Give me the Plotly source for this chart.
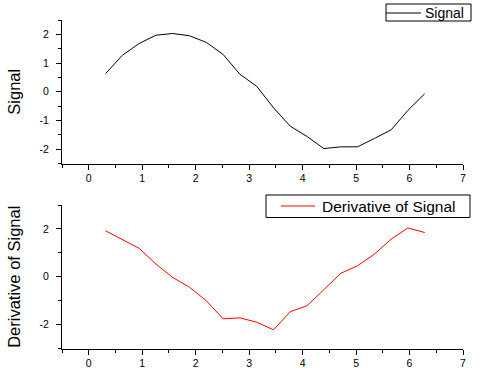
import plotly.graph_objects as go

# ---- data ----
x_vals = [0.314, 0.628, 0.942, 1.257, 1.571, 1.885, 2.199, 2.513, 2.827, 3.142,
          3.456, 3.770, 4.084, 4.398, 4.712, 5.027, 5.341, 5.655, 5.969, 6.283]
signal = [0.63, 1.27, 1.68, 1.97, 2.03, 1.95, 1.72, 1.30, 0.61, 0.19,
          -0.56, -1.20, -1.56, -1.98, -1.92, -1.92, -1.63, -1.33, -0.65, -0.07]
derivative = [1.92, 1.57, 1.19, 0.53, -0.03, -0.44, -1.00, -1.76, -1.72, -1.90,
              -2.22, -1.46, -1.21, -0.54, 0.14, 0.46, 0.94, 1.57, 2.04, 1.85]

x_ticks = [0, 1, 2, 3, 4, 5, 6, 7]
x_ticklabels = ["0", "1", "2", "3", "4", "5", "6", "7"]
y1_ticks = [-2, -1, 0, 1, 2]
y1_ticklabels = ["-2", "-1", "0", "1", "2"]
y2_ticks = [-2, 0, 2]
y2_ticklabels = ["-2", "0", "2"]

W, H = 481, 377
FONT = "Arial, Liberation Sans, sans-serif"


def px_x(p):
    return p / W


def px_y(p):
    return 1 - p / H


fig = go.Figure()
fig.add_trace(go.Scatter(x=x_vals, y=signal, mode="lines", name="Signal",
                         line=dict(color="black", width=1), xaxis="x", yaxis="y"))
fig.add_trace(go.Scatter(x=x_vals, y=derivative, mode="lines", name="Derivative of Signal",
                         line=dict(color="#ff0000", width=1), xaxis="x2", yaxis="y2"))

xdom = [px_x(62), px_x(463)]
common_x = dict(range=[-0.5, 7], domain=xdom, showgrid=False, zeroline=False,
                showline=True, linecolor="black", linewidth=1,
                ticks="outside", ticklen=5, tickwidth=1, tickcolor="black",
                tickvals=x_ticks, ticktext=x_ticklabels,
                tickfont=dict(family=FONT, size=10.5, color="black"),
                minor=dict(tick0=-0.5, dtick=0.5, ticks="outside", ticklen=3,
                           tickcolor="black", tickwidth=1, showgrid=False),
                automargin=False, fixedrange=True)

common_y = dict(showgrid=False, zeroline=False, showline=True, linecolor="black",
                linewidth=1, ticks="outside", ticklen=5, tickwidth=1, tickcolor="black",
                tickfont=dict(family=FONT, size=10.5, color="black"),
                ticklabelstandoff=5, automargin=False, fixedrange=True)

# legend boxes drawn as paper-coordinate shapes + annotations
legends = [
    # (box x0, x1, y0, y1, line x0, x1, line y, text x, text, colour, font size)
    (386, 471, 4, 21, 386, 421, 13, 423, "Signal", "black", 14),
    (266, 470, 195, 217.5, 281, 315, 206, 320, "Derivative of Signal", "#ff0000", 15.5),
]
shapes = []
annotations = []
for bx0, bx1, by0, by1, lx0, lx1, ly, tx, txt, col, fs in legends:
    shapes.append(dict(type="rect", xref="paper", yref="paper",
                       x0=px_x(bx0), x1=px_x(bx1), y0=px_y(by1), y1=px_y(by0),
                       line=dict(color="black", width=1), fillcolor="white", layer="above"))
    shapes.append(dict(type="line", xref="paper", yref="paper",
                       x0=px_x(lx0), x1=px_x(lx1), y0=px_y(ly), y1=px_y(ly),
                       line=dict(color=col, width=1), layer="above"))
    annotations.append(dict(text=txt, xref="paper", yref="paper", x=px_x(tx), y=px_y(ly),
                            xanchor="left", yanchor="middle", showarrow=False,
                            font=dict(family=FONT, size=fs, color="black")))

fig.update_layout(
    width=W, height=H,
    margin=dict(l=0, r=0, t=0, b=0),
    paper_bgcolor="white", plot_bgcolor="white",
    font=dict(family=FONT, color="black"),
    xaxis=dict(common_x, anchor="y"),
    xaxis2=dict(common_x, anchor="y2"),
    yaxis=dict(common_y, domain=[px_y(163.5), px_y(20)], range=[-2.5, 2.5],
               tickvals=y1_ticks, ticktext=y1_ticklabels,
               minor=dict(tick0=-2.5, dtick=0.5, ticks="outside", ticklen=3,
                          tickcolor="black", tickwidth=1, showgrid=False),
               title=dict(text="Signal", font=dict(family=FONT, size=16.5), standoff=14),
               anchor="x"),
    yaxis2=dict(common_y, domain=[px_y(348.5), px_y(205)], range=[-3, 3],
                tickvals=y2_ticks, ticktext=y2_ticklabels,
                minor=dict(tick0=-3, dtick=1, ticks="outside", ticklen=3,
                           tickcolor="black", tickwidth=1, showgrid=False),
                title=dict(text="Derivative of Signal", font=dict(family=FONT, size=16.5), standoff=14),
                anchor="x2"),
    shapes=shapes,
    annotations=annotations,
    showlegend=False,
)

fig.write_html("out.html", config={"displayModeBar": False},
               post_script="document.body.style.margin='0';document.body.style.padding='0';")
